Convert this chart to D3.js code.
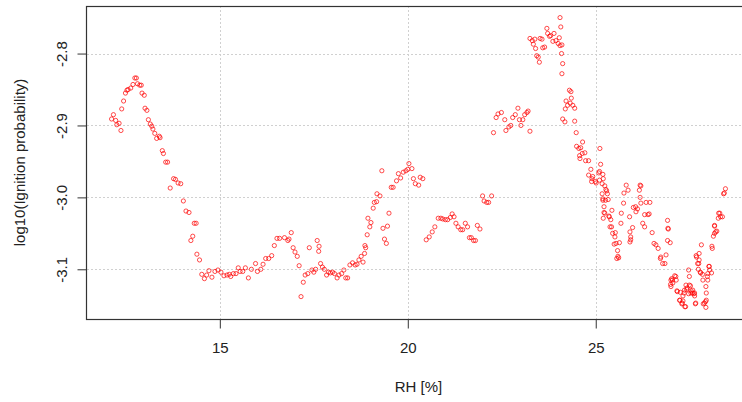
<!DOCTYPE html>
<html>
<head>
<meta charset="utf-8">
<script src="https://cdn.jsdelivr.net/npm/d3@7"></script>
<style>
    body { margin: 0; background: #fff; }
    svg text { font-family: "Liberation Sans", Arial, sans-serif; fill: #222; }
</style>
</head>
<body>
<div id="chart"></div>
<script>
var width = 742
var height = 402

var plotLeft = 87
var plotRight = 750
var plotTop = 6
var plotBottom = 319

var xTicks = [15, 20, 25]
var yTicks = [-2.8, -2.9, -3.0, -3.1]
var yTickLabels = ['-2.8', '-2.9', '-3.0', '-3.1']
var xTitle = 'RH [%]'
var yTitle = 'log10(Ignition probability)'

// [RH, log10 probability]
var dryPeak = [
    [12.12, -2.891], [12.17, -2.885], [12.23, -2.893], [12.26, -2.899], [12.32, -2.897],
    [12.37, -2.907], [12.39, -2.877], [12.44, -2.866], [12.49, -2.855], [12.53, -2.851],
    [12.56, -2.850], [12.63, -2.848], [12.69, -2.843], [12.74, -2.834], [12.78, -2.834],
    [12.81, -2.842], [12.87, -2.844], [12.91, -2.844], [12.93, -2.855], [12.99, -2.858],
    [13.01, -2.876], [13.06, -2.879], [13.10, -2.892], [13.15, -2.898], [13.19, -2.901],
    [13.22, -2.905], [13.27, -2.911], [13.32, -2.918], [13.39, -2.915], [13.41, -2.917],
    [13.47, -2.935], [13.50, -2.939], [13.56, -2.951], [13.61, -2.951], [13.68, -2.987],
    [13.77, -2.974], [13.82, -2.975], [13.89, -2.980], [13.96, -2.981], [14.03, -3.005],
    [14.10, -3.019], [14.18, -3.021], [14.32, -3.036], [14.37, -3.036], [14.28, -3.054],
    [14.23, -3.060], [14.39, -3.079], [14.46, -3.087], [14.52, -3.107], [14.59, -3.113],
    [14.65, -3.108], [14.71, -3.102], [14.79, -3.111], [14.87, -3.103], [14.95, -3.101],
    [15.03, -3.104], [15.11, -3.109], [15.19, -3.108], [15.25, -3.107]
]

var plateau = [
    [15.29, -3.110], [15.36, -3.106], [15.43, -3.106], [15.49, -3.098], [15.54, -3.103],
    [15.61, -3.103], [15.68, -3.098], [15.76, -3.112], [15.84, -3.100], [15.95, -3.092],
    [16.00, -3.103], [16.09, -3.100], [16.15, -3.093], [16.22, -3.085], [16.30, -3.085],
    [16.38, -3.081], [16.45, -3.067], [16.52, -3.057], [16.59, -3.057], [16.72, -3.056],
    [16.81, -3.060], [16.84, -3.058], [16.90, -3.049], [16.95, -3.070], [17.00, -3.076],
    [17.06, -3.082], [17.11, -3.095], [17.16, -3.138], [17.22, -3.118], [17.27, -3.108],
    [17.34, -3.106], [17.38, -3.070], [17.45, -3.101], [17.50, -3.104], [17.55, -3.100],
    [17.59, -3.060], [17.64, -3.068], [17.63, -3.075], [17.68, -3.092], [17.73, -3.097],
    [17.78, -3.100], [17.84, -3.108], [17.89, -3.104], [17.94, -3.105], [18.00, -3.104],
    [18.05, -3.106], [18.12, -3.112], [18.17, -3.108], [18.24, -3.106], [18.30, -3.101],
    [18.35, -3.112], [18.40, -3.112], [18.46, -3.094], [18.53, -3.091], [18.60, -3.094],
    [18.65, -3.093], [18.70, -3.087], [18.76, -3.082], [18.81, -3.090], [18.85, -3.078],
    [18.88, -3.070], [18.86, -3.067]
]

var secondRise = [
    [18.92, -3.052], [18.99, -3.041], [18.94, -3.029], [19.02, -3.035], [19.08, -3.015],
    [19.11, -3.007], [19.17, -3.006], [19.18, -2.995], [19.26, -2.998], [19.31, -2.963],
    [19.34, -3.043], [19.38, -3.058], [19.43, -3.064], [19.46, -3.040], [19.50, -3.022],
    [19.56, -2.986], [19.61, -2.986], [19.70, -2.977], [19.75, -2.967], [19.81, -2.973],
    [19.88, -2.965], [19.95, -2.963], [20.00, -2.961], [20.03, -2.953], [20.11, -2.960],
    [20.15, -2.974], [20.20, -2.981], [20.29, -2.983], [20.33, -2.972], [20.40, -2.974],
    [20.49, -3.059], [20.57, -3.055], [20.65, -3.048], [20.72, -3.041], [20.81, -3.029],
    [20.88, -3.029], [20.93, -3.030], [21.00, -3.031], [21.06, -3.031], [21.13, -3.028],
    [21.18, -3.023], [21.23, -3.027], [21.28, -3.036], [21.34, -3.041], [21.41, -3.045],
    [21.46, -3.045], [21.53, -3.036], [21.59, -3.041], [21.64, -3.056], [21.69, -3.056],
    [21.75, -3.060], [21.80, -3.060], [21.85, -3.039], [21.92, -3.044], [21.99, -2.998],
    [22.03, -3.005], [22.10, -3.007], [22.15, -3.007], [22.23, -2.998]
]

var humidPeak = [
    [22.28, -2.910], [22.35, -2.889], [22.40, -2.884], [22.49, -2.882], [22.58, -2.892],
    [22.61, -2.907], [22.69, -2.902], [22.74, -2.900], [22.79, -2.889], [22.86, -2.885],
    [22.93, -2.876], [22.97, -2.892], [23.01, -2.900], [23.06, -2.892], [23.11, -2.885],
    [23.17, -2.882], [23.20, -2.880], [23.25, -2.908], [23.25, -2.779], [23.31, -2.782],
    [23.34, -2.787], [23.38, -2.780], [23.40, -2.793], [23.43, -2.803], [23.47, -2.805],
    [23.50, -2.812], [23.52, -2.779], [23.57, -2.780], [23.59, -2.792], [23.64, -2.791],
    [23.70, -2.765], [23.72, -2.772], [23.77, -2.776], [23.80, -2.775], [23.86, -2.783],
    [23.89, -2.772], [23.94, -2.782], [24.00, -2.786], [24.03, -2.778], [24.05, -2.750],
    [24.07, -2.763], [24.05, -2.789], [24.10, -2.788], [24.09, -2.800], [24.12, -2.814],
    [24.10, -2.828], [24.30, -2.851], [24.34, -2.853], [24.35, -2.862], [24.21, -2.866],
    [24.25, -2.872], [24.19, -2.877], [24.32, -2.869], [24.39, -2.872], [24.44, -2.876],
    [24.12, -2.891], [24.18, -2.895], [24.44, -2.894], [24.48, -2.910], [24.49, -2.929],
    [24.55, -2.932], [24.60, -2.931], [24.65, -2.923], [24.57, -2.942], [24.64, -2.939],
    [24.71, -2.938], [24.58, -2.946], [24.73, -2.949], [24.81, -2.949], [24.87, -2.961],
    [25.11, -2.932], [25.13, -2.954], [25.10, -2.964]
]

var decline = [
    [24.81, -2.969], [24.90, -2.974], [24.99, -2.978], [25.10, -2.976], [25.17, -2.981],
    [25.24, -2.984], [25.27, -2.989], [25.17, -2.995], [25.31, -2.995], [25.19, -3.004],
    [25.33, -3.003], [25.22, -3.013], [25.24, -3.022], [25.35, -3.026], [25.40, -3.031],
    [25.42, -3.041], [25.45, -3.050], [25.51, -3.055], [25.54, -3.064], [25.58, -3.074],
    [25.59, -3.082], [25.56, -3.085], [25.52, -3.049], [25.63, -3.063], [25.68, -3.022],
    [25.74, -3.008], [25.75, -2.994], [25.81, -2.983], [25.86, -2.990], [25.90, -3.027],
    [25.91, -3.048], [25.93, -3.059], [25.98, -3.042], [26.06, -3.013], [26.11, -3.016],
    [26.16, -2.990], [26.20, -2.984], [26.18, -3.000], [26.25, -3.036], [26.30, -3.041],
    [26.34, -3.007], [26.39, -3.024], [26.44, -3.007], [26.50, -3.049], [26.55, -3.064],
    [26.60, -3.066], [26.66, -3.071], [26.73, -3.083], [26.78, -3.092], [26.84, -3.092],
    [26.87, -3.080], [26.91, -3.032], [26.92, -3.043], [26.98, -3.063], [26.91, -3.060],
    [24.92, -2.971], [24.89, -2.978], [25.01, -2.980], [25.08, -2.966], [25.19, -2.968],
    [25.20, -2.974], [25.29, -2.991], [25.19, -3.002], [25.26, -3.004], [25.22, -3.021],
    [25.43, -3.018], [25.20, -3.029], [25.36, -3.027], [25.38, -3.041], [25.49, -3.065],
    [25.61, -3.084], [25.67, -3.036], [26.00, -3.014], [26.07, -3.020], [26.18, -2.983],
    [26.20, -3.008], [26.30, -3.024], [25.93, -3.055], [25.91, -3.062], [26.42, -3.023],
    [26.72, -3.085], [26.93, -3.044]
]

var trough = [
    [27.00, -3.115], [27.05, -3.119], [27.10, -3.109], [27.14, -3.115], [27.17, -3.131],
    [27.23, -3.143], [27.30, -3.147], [27.37, -3.152], [27.35, -3.133], [27.42, -3.128],
    [27.47, -3.101], [27.49, -3.110], [27.49, -3.122], [27.53, -3.133], [27.58, -3.129],
    [27.63, -3.133], [27.65, -3.148], [27.67, -3.081], [27.74, -3.092], [27.81, -3.066],
    [27.79, -3.105], [27.85, -3.115], [27.86, -3.148], [27.92, -3.145], [27.93, -3.124],
    [27.97, -3.110], [28.02, -3.096], [28.08, -3.105], [28.09, -3.068], [28.13, -3.054],
    [28.16, -3.040], [28.22, -3.047], [28.27, -3.022], [28.32, -3.027], [28.40, -2.995],
    [28.45, -2.988], [27.02, -3.113], [27.00, -3.124], [27.13, -3.110], [27.16, -3.130],
    [27.24, -3.143], [27.29, -3.148], [27.32, -3.137], [27.36, -3.129], [27.39, -3.152],
    [27.43, -3.126], [27.52, -3.123], [27.57, -3.133], [27.63, -3.137], [27.66, -3.147],
    [27.68, -3.083], [27.71, -3.092], [27.75, -3.078], [27.78, -3.104], [27.84, -3.107],
    [27.89, -3.147], [27.93, -3.153], [27.94, -3.133], [27.98, -3.115], [28.01, -3.096],
    [28.10, -3.071], [28.16, -3.050], [28.19, -3.048], [28.16, -3.039], [28.26, -3.029],
    [28.30, -3.022], [28.37, -3.027], [28.42, -2.994], [27.25, -3.132], [27.32, -3.144],
    [27.47, -3.134], [27.54, -3.130], [27.61, -3.134], [27.40, -3.122], [27.04, -3.115],
    [26.99, -3.121], [27.75, -3.087], [27.73, -3.100], [27.98, -3.106], [28.03, -3.101],
    [27.94, -3.143]
]

var points = [].concat(dryPeak, plateau, secondRise, humidPeak, decline, trough)

// R style axis range: data extent plus 4% each side
function padded(ext) {
    var d = (ext[1] - ext[0]) * 0.04
    return [ext[0] - d, ext[1] + d]
}

var x = d3.scaleLinear()
    .domain(padded(d3.extent(points, function(d) { return d[0] })))
    .range([plotLeft, plotRight])

var y = d3.scaleLinear()
    .domain(padded(d3.extent(points, function(d) { return d[1] })))
    .range([plotBottom, plotTop])

var svg = d3.select('#chart').append('svg')
    .attr('width', width)
    .attr('height', height)

// grid
var grid = svg.append('g')
    .attr('stroke', '#d0d0d0')
    .attr('stroke-width', 1)
    .attr('stroke-dasharray', '2,2')

grid.selectAll('.gx').data(xTicks).enter().append('line')
    .attr('x1', function(d) { return Math.round(x(d)) + 0.5 })
    .attr('x2', function(d) { return Math.round(x(d)) + 0.5 })
    .attr('y1', plotTop)
    .attr('y2', plotBottom)

grid.selectAll('.gy').data(yTicks).enter().append('line')
    .attr('x1', plotLeft)
    .attr('x2', plotRight)
    .attr('y1', function(d) { return Math.round(y(d)) + 0.5 })
    .attr('y2', function(d) { return Math.round(y(d)) + 0.5 })

// points
svg.append('g').selectAll('circle')
    .data(points)
    .enter().append('circle')
    .attr('cx', function(d) { return x(d[0]) })
    .attr('cy', function(d) { return y(d[1]) })
    .attr('r', 2.1)
    .attr('fill', 'none')
    .attr('stroke', '#ff0000')
    .attr('stroke-opacity', 0.7)
    .attr('stroke-width', 1)

// box
svg.append('rect')
    .attr('x', plotLeft - 0.5)
    .attr('y', plotTop + 0.5)
    .attr('width', plotRight - plotLeft)
    .attr('height', plotBottom - plotTop)
    .attr('fill', 'none')
    .attr('stroke', '#333')
    .attr('stroke-width', 1.2)

// axes
var xAxis = svg.append('g')
    .attr('transform', 'translate(0,' + (plotBottom + 0.5) + ')')
    .call(d3.axisBottom(x).tickValues(xTicks).tickSize(9).tickPadding(14)
        .tickFormat(d3.format('d')))
xAxis.select('.domain').remove()
xAxis.selectAll('line').attr('stroke', '#333')
xAxis.selectAll('text')
    .attr('font-size', 15)
    .attr('font-family', '"Liberation Sans", Arial, sans-serif')

var yAxis = svg.append('g')
    .attr('transform', 'translate(' + (plotLeft - 0.5) + ',0)')
    .call(d3.axisLeft(y).tickValues(yTicks).tickSize(9)
        .tickFormat(function(d, i) { return yTickLabels[i] }))
yAxis.select('.domain').remove()
yAxis.selectAll('line').attr('stroke', '#333')
yAxis.selectAll('text')
    .attr('x', 0)
    .attr('y', -20)
    .attr('dy', 0)
    .attr('transform', 'rotate(-90)')
    .style('text-anchor', 'middle')
    .attr('font-size', 15)
    .attr('font-family', '"Liberation Sans", Arial, sans-serif')

// titles
svg.append('text')
    .attr('x', (plotLeft + plotRight) / 2)
    .attr('y', 392)
    .attr('text-anchor', 'middle')
    .attr('font-size', 15)
    .text(xTitle)

svg.append('text')
    .attr('transform', 'translate(24.5,' + (plotTop + plotBottom) / 2 + ') rotate(-90)')
    .attr('text-anchor', 'middle')
    .attr('font-size', 15)
    .text(yTitle)
</script>
</body>
</html>
